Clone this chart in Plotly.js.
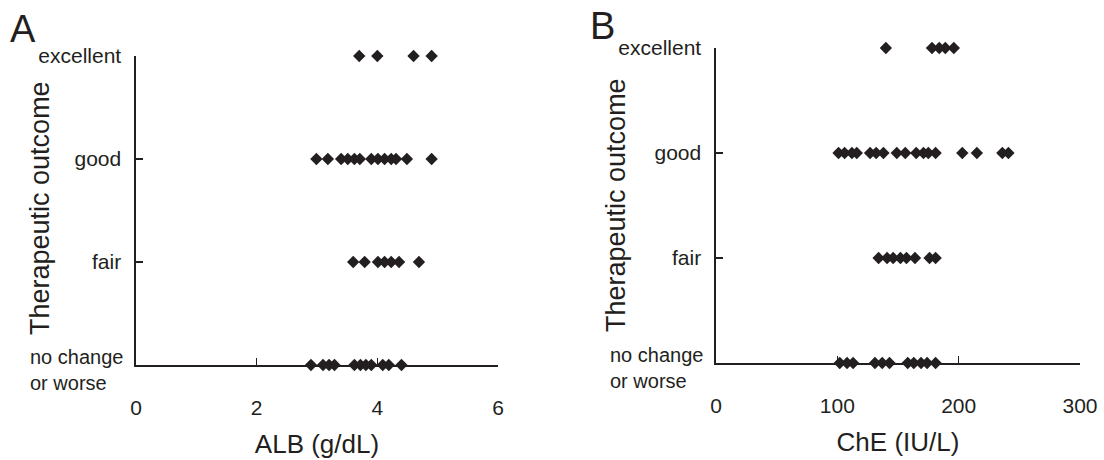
<!DOCTYPE html>
<html>
<head>
<meta charset="utf-8">
<script src="https://cdn.plot.ly/plotly-3.0.1.min.js"></script>
<style>html,body{margin:0;padding:0;background:#fff}#chart{width:1104px;height:460px}</style>
</head>
<body>
<div id="chart"></div>
<script>
// Outcome categories (0 = bottom)
const outcomeLabels = ["", "fair", "good", "excellent"];
const bottomLabel = "no change<br>or worse";
const outcomeLevels = [0, 1, 2, 3];
const yTitle = "Therapeutic outcome";

// Panel A: ALB (g/dL) per outcome
const albExcellent = [3.70, 4.00, 4.60, 4.90];
const albGood = [2.99, 3.18, 3.40, 3.51, 3.62, 3.71, 3.90, 4.01, 4.12, 4.23, 4.31, 4.49, 4.90];
const albFair = [3.60, 3.79, 4.01, 4.12, 4.23, 4.36, 4.69];
const albNoChange = [2.90, 3.10, 3.20, 3.29, 3.62, 3.72, 3.81, 3.90, 4.09, 4.19, 4.40];

// Panel B: ChE (IU/L) per outcome
const cheExcellent = [140, 178, 184, 189, 196];
const cheGood = [101, 106, 112, 116, 127, 132, 138, 149, 156, 165, 171, 175, 181, 203, 215, 236, 241];
const cheFair = [134, 141, 146, 152, 157, 164, 176, 181];
const cheNoChange = [102, 108, 113, 131, 137, 143, 158, 163, 169, 174, 181];

const albTicks = [0, 2, 4, 6];
const cheTicks = [0, 100, 200, 300];

const ink = "#231f20";
const fontFam = "Liberation Sans, Arial, Helvetica, sans-serif";
const W = 1104, H = 460;

function rows(groups, xa, ya) {
  const x = [], y = [];
  groups.forEach(function (g, i) {
    g.forEach(function (v) { x.push(v); y.push(outcomeLevels[i]); });
  });
  return {
    type: "scatter", mode: "markers", x: x, y: y, xaxis: xa, yaxis: ya,
    cliponaxis: false, hoverinfo: "x+y",
    marker: { symbol: "diamond", size: 9.5, color: ink, line: { width: 0 } }
  };
}

const traces = [
  rows([albNoChange, albFair, albGood, albExcellent], "x", "y"),
  rows([cheNoChange, cheFair, cheGood, cheExcellent], "x2", "y2")
];

function xax(domain, range, ticks, title, anchor) {
  return {
    domain: domain, range: range, anchor: anchor,
    tickmode: "array", tickvals: ticks, ticktext: ticks.map(String),
    ticks: "inside", ticklen: 7, tickwidth: 1.6, tickcolor: ink,
    showline: true, linecolor: ink, linewidth: 1.6, showgrid: false, zeroline: false,
    ticklabelstandoff: 23, layer: "below traces",
    tickfont: { family: fontFam, size: 21, color: ink },
    title: { text: title, font: { family: fontFam, size: 26, color: ink }, standoff: 17 }
  };
}
function yax(domain, anchor) {
  return {
    domain: domain, range: [0, 3], anchor: anchor,
    tickmode: "array", tickvals: outcomeLevels, ticktext: outcomeLabels,
    ticks: "inside", ticklen: 7, tickwidth: 1.6, tickcolor: ink,
    showline: true, linecolor: ink, linewidth: 1.6, showgrid: false, zeroline: false,
    ticklabelstandoff: 9, layer: "below traces",
    tickfont: { family: fontFam, size: 21, color: ink }
  };
}

function ann(text, px, py, opts) {
  return Object.assign({
    text: text, xref: "paper", yref: "paper", x: px / W, y: 1 - py / H,
    showarrow: false, font: { family: fontFam, size: 20, color: ink }
  }, opts || {});
}

const annotations = [
  ann("A", 8, 6, { xanchor: "left", yanchor: "top", font: { family: fontFam, size: 38, color: ink } }),
  ann("B", 588, 3, { xanchor: "left", yanchor: "top", font: { family: fontFam, size: 38, color: ink } }),
  ann(yTitle, 40, 208, { xanchor: "center", yanchor: "middle", textangle: -90, font: { family: fontFam, size: 27, color: ink } }),
  ann(yTitle, 616, 205, { xanchor: "center", yanchor: "middle", textangle: -90, font: { family: fontFam, size: 27, color: ink } }),
  ann(bottomLabel, 28, 370, { xanchor: "left", yanchor: "middle", align: "left", font: { family: fontFam, size: 20, color: ink } }),
  ann(bottomLabel, 608, 368, { xanchor: "left", yanchor: "middle", align: "left", font: { family: fontFam, size: 20, color: ink } })
];

const layout = {
  width: W, height: H,
  margin: { l: 0, r: 0, t: 0, b: 0 },
  paper_bgcolor: "#fff", plot_bgcolor: "#fff",
  showlegend: false,
  font: { family: fontFam, color: ink },
  xaxis: xax([136 / W, 498 / W], [0, 6], albTicks, "ALB (g/dL)", "y"),
  yaxis: yax([1 - 365 / H, 1 - 56 / H], "x"),
  xaxis2: xax([716 / W, 1080 / W], [0, 300], cheTicks, "ChE (IU/L)", "y2"),
  yaxis2: yax([1 - 363 / H, 1 - 48 / H], "x2"),
  annotations: annotations
};

Plotly.newPlot("chart", traces, layout, { staticPlot: true, displayModeBar: false });
</script>
</body>
</html>
